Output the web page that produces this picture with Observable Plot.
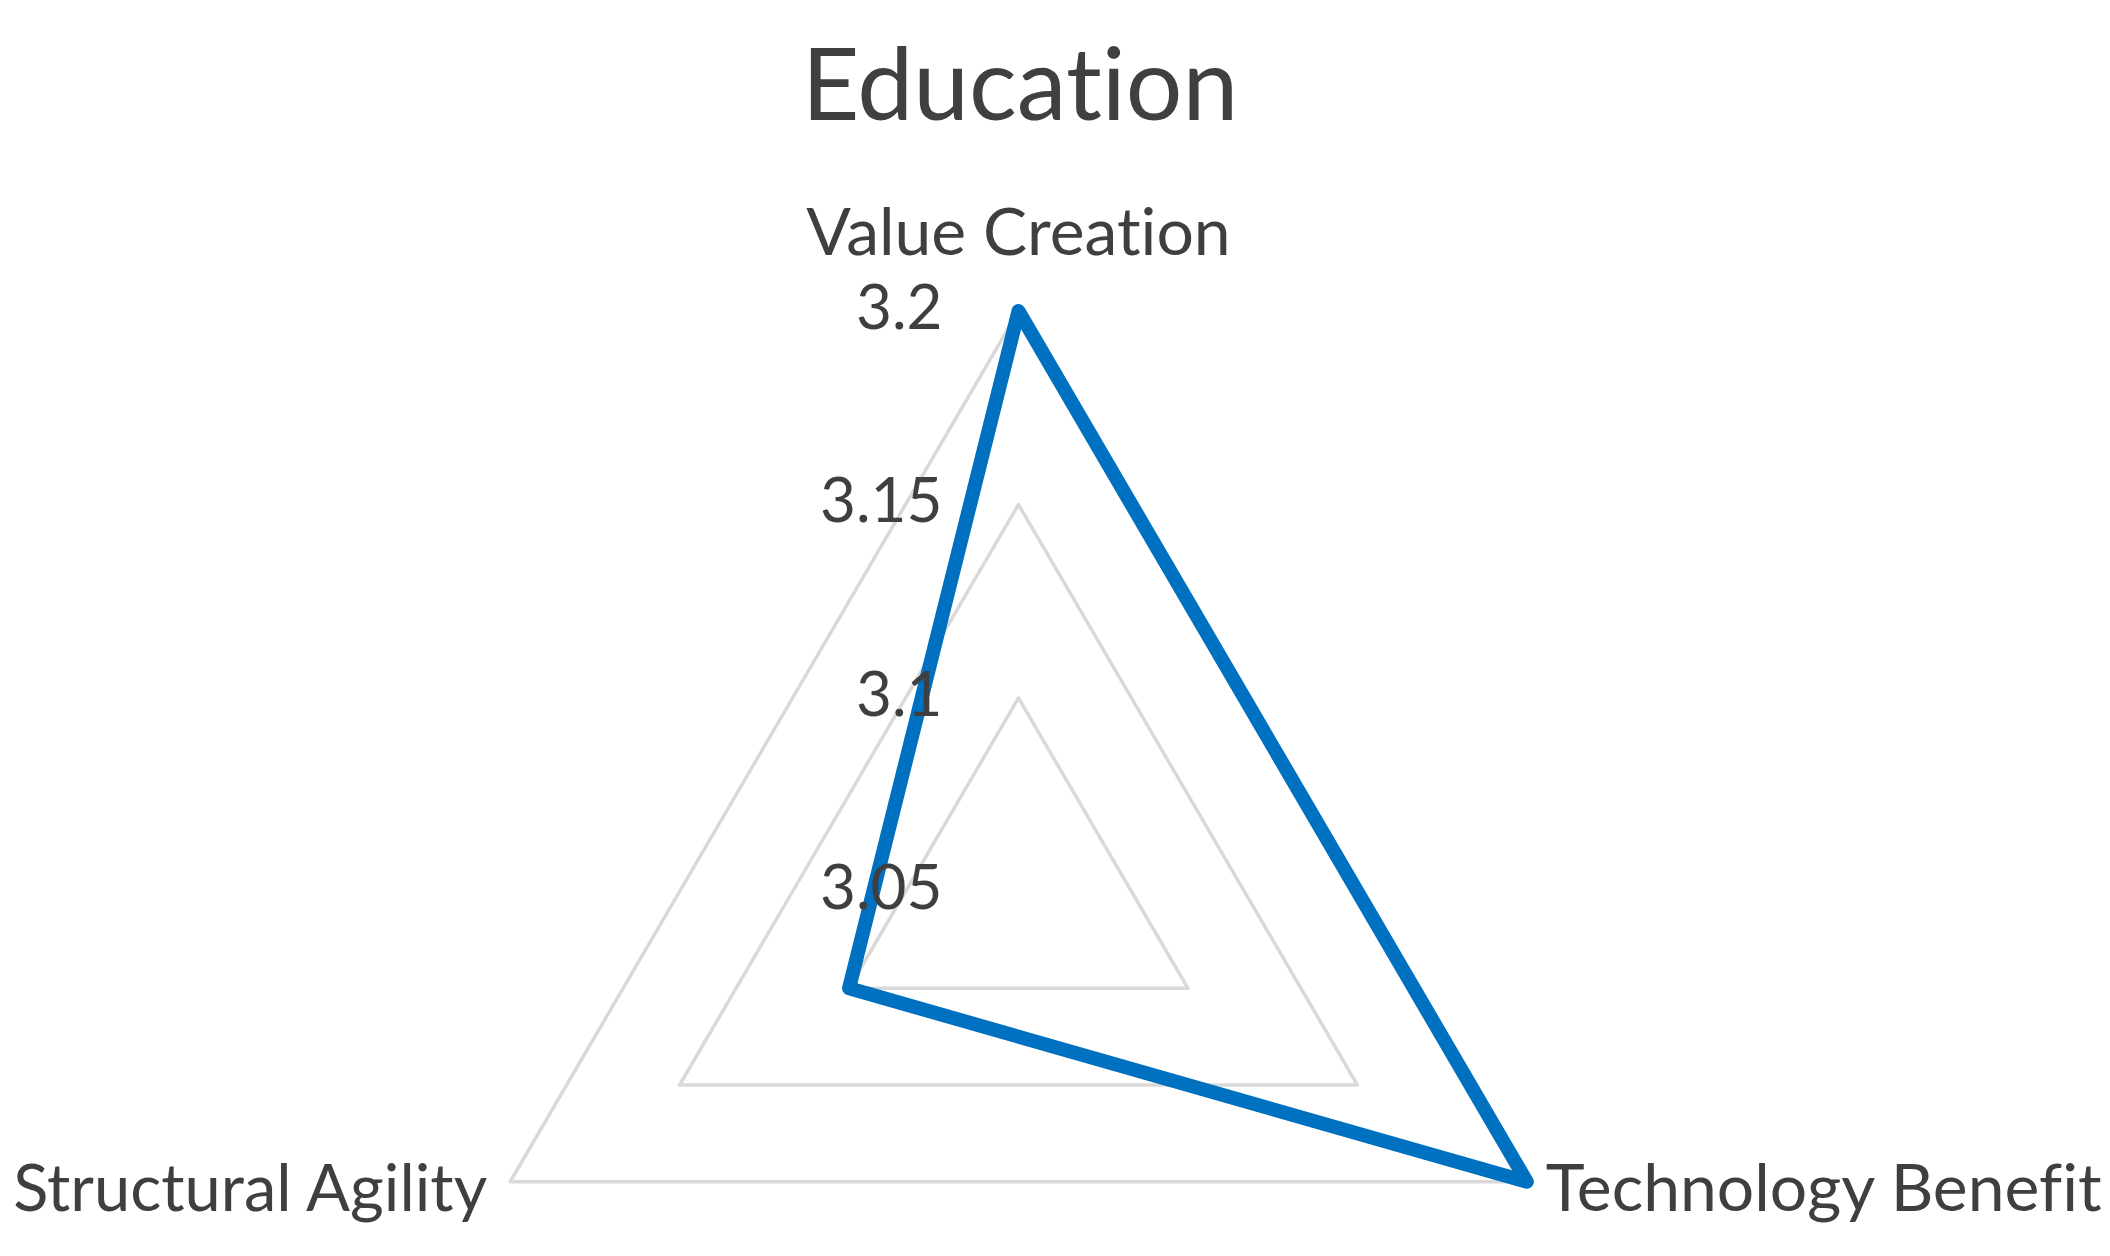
<!DOCTYPE html>
<html>
<head>
<meta charset="utf-8">
<script src="https://cdn.jsdelivr.net/npm/d3@7"></script>
<script src="https://cdn.jsdelivr.net/npm/@observablehq/plot@0.6"></script>
<style>
  html, body { margin: 0; padding: 0; background: #fff; }
  #chart { position: relative; width: 2110px; height: 1256px; background: #fff; overflow: hidden; }
  #title { position: absolute; left: 0; top: 31px; width: 2040px; text-align: center;
           font-family: Lato, "Open Sans", sans-serif; font-size: 100px; line-height: 1; color: #404040;
           font-variant-ligatures: none; font-feature-settings: "liga" 0, "clig" 0; }
  #plot { position: absolute; left: 0; top: 170px; }
  #plot svg text { font-variant-ligatures: none; font-feature-settings: "liga" 0, "clig" 0; }
</style>
</head>
<body>
<div id="chart">
  <div id="title">Education</div>
  <div id="plot"></div>
</div>
<script>
// ---- data ----
const axes = ["Value Creation", "Technology Benefit", "Structural Agility"];
const values = [3.2, 3.2, 3.1];
const gridLevels = [3.1, 3.15, 3.2];
const tickValues = [3.05, 3.1, 3.15, 3.2];
const tickLabels = ["3.05", "3.1", "3.15", "3.2"];
const rMin = 3.05, rMax = 3.2;

// ---- polar -> cartesian (unit radius) ----
const rScale = d3.scaleLinear().domain([rMin, rMax]).range([0, 1]);
const angle = i => i * 2 * Math.PI / axes.length;
const pt = (i, v) => ({x: rScale(v) * Math.sin(angle(i)), y: rScale(v) * Math.cos(angle(i))});

const gridRows = gridLevels.flatMap(level => axes.map((a, i) => ({level, ...pt(i, level)})));
const seriesRows = axes.map((a, i) => ({axis: a, value: values[i], ...pt(i, values[i])}));
const tickRows = tickValues.map((v, k) => ({label: tickLabels[k], ...pt(0, v)}));
const labelRows = axes.map((a, i) => ({label: a, i, ...pt(i, rMax)}));

const cx = 1018, cy = 721, Rx = 587, Ry = 580.5;
const textColor = "#3f3f3f";
const font = "Lato, 'Open Sans', sans-serif";

const chart = Plot.plot({
  width: 2110,
  height: 1086,
  margin: 0,
  style: {fontFamily: font, background: "#fff"},
  x: {type: "linear", domain: [-1.5, 1.5], range: [cx - 1.5 * Rx, cx + 1.5 * Rx], axis: null},
  y: {type: "linear", domain: [-0.5, 1], range: [cy + 0.5 * Ry, cy - Ry], axis: null},
  marks: [
    Plot.line(gridRows, {x: "x", y: "y", z: "level", curve: "linear-closed", stroke: "#d9d9d9", strokeWidth: 3.5}),
    Plot.line(seriesRows, {x: "x", y: "y", curve: "linear-closed", stroke: "#0070C0", strokeWidth: 14, strokeLinejoin: "round"}),
    Plot.text(tickRows, {x: "x", y: "y", text: "label", textAnchor: "end", dx: -76, dy: -2, fontSize: 62, fill: textColor, fontFamily: font}),
    Plot.text(labelRows.filter(d => d.i === 0), {x: "x", y: "y", text: "label", textAnchor: "middle", dy: -77, fontSize: 66, fill: textColor, fontFamily: font}),
    Plot.text(labelRows.filter(d => d.i === 1), {x: "x", y: "y", text: "label", textAnchor: "start", dx: 19, dy: 8, fontSize: 66, fill: textColor, fontFamily: font}),
    Plot.text(labelRows.filter(d => d.i === 2), {x: "x", y: "y", text: "label", textAnchor: "end", dx: -23, dy: 8, fontSize: 65, fill: textColor, fontFamily: font})
  ]
});
document.getElementById("plot").appendChild(chart);
</script>
</body>
</html>
